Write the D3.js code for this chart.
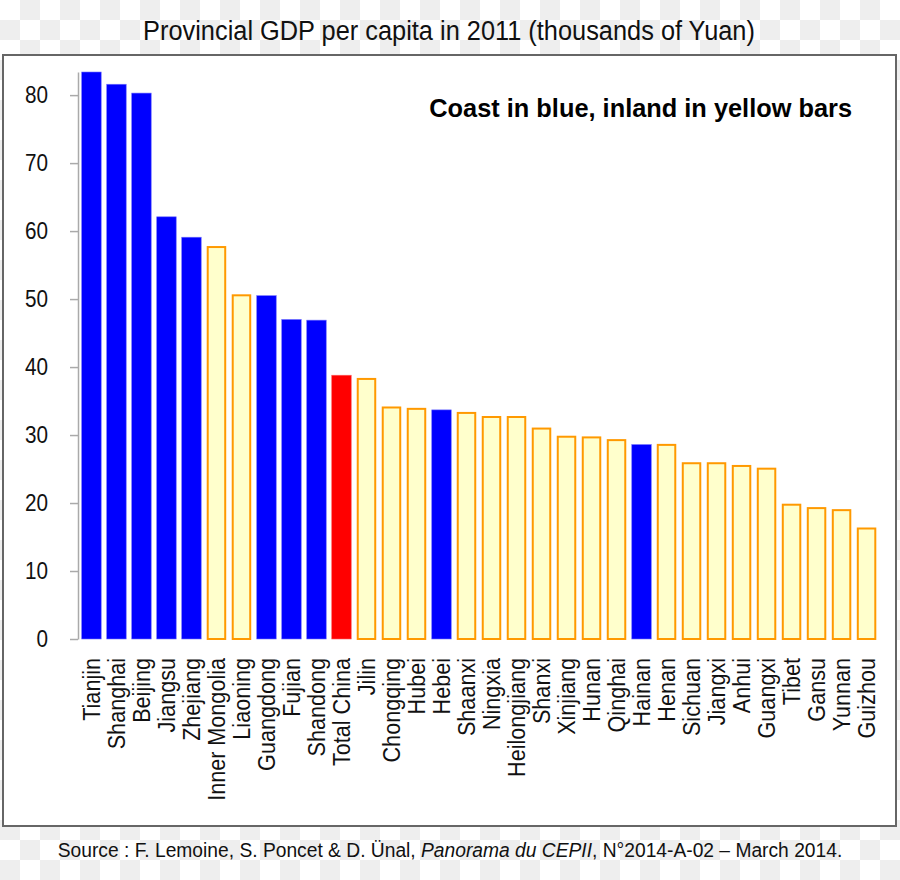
<!DOCTYPE html>
<html>
<head>
<meta charset="utf-8">
<script src="https://cdn.jsdelivr.net/npm/d3@7"></script>
<style>
  body { margin: 0; background: #fff; }
  text { font-family: "Liberation Sans", Arial, sans-serif; }
</style>
</head>
<body>
<div class="diagram"></div>
<script>
// provinces sorted by GDP per capita, 2011 (thousands of Yuan)
const provinces = ["Tianjin", "Shanghai", "Beijing", "Jiangsu", "Zhejiang", "Inner Mongolia",
  "Liaoning", "Guangdong", "Fujian", "Shandong", "Total China", "Jilin", "Chongqing", "Hubei",
  "Hebei", "Shaanxi", "Ningxia", "Heilongjiang", "Shanxi", "Xinjiang", "Hunan", "Qinghai",
  "Hainan", "Henan", "Sichuan", "Jiangxi", "Anhui", "Guangxi", "Tibet", "Gansu", "Yunnan", "Guizhou"];
const gdp = [83.4, 81.6, 80.3, 62.1, 59.1, 57.8, 50.7, 50.5, 47.0, 46.9, 38.8, 38.4, 34.2, 34.0,
  33.7, 33.4, 32.8, 32.8, 31.1, 29.9, 29.8, 29.4, 28.6, 28.7, 26.0, 26.0, 25.6, 25.2, 19.9, 19.4, 19.1, 16.4];
// coast / inland / total
const region = ["coast", "coast", "coast", "coast", "coast", "inland", "inland", "coast", "coast", "coast",
  "total", "inland", "inland", "inland", "coast", "inland", "inland", "inland", "inland", "inland",
  "inland", "inland", "coast", "inland", "inland", "inland", "inland", "inland", "inland", "inland",
  "inland", "inland"];
const yTicks = [0, 10, 20, 30, 40, 50, 60, 70, 80];

const data = provinces.map((p, i) => ({name: p, value: gdp[i], region: region[i]}));

const width = 900, height = 880;
const narrow = 0.9;  // fake "Arial Narrow" by squeezing horizontally

// squeeze a text so it spans targetW pixels
function fitWidth(sel, tx, ty, targetW) {
  const w = sel.node().getComputedTextLength();
  sel.attr("transform", `translate(${tx},${ty}) scale(${targetW / w},1)`);
}

const svg = d3.select(".diagram")
  .append("svg")
    .attr("width", width)
    .attr("height", height);

// checkerboard background (transparent png look)
const pat = svg.append("defs").append("pattern")
  .attr("id", "checker")
  .attr("width", 40).attr("height", 40)
  .attr("patternUnits", "userSpaceOnUse");
pat.append("rect").attr("width", 40).attr("height", 40).attr("fill", "#ffffff");
pat.append("rect").attr("x", 20).attr("y", 0).attr("width", 20).attr("height", 20).attr("fill", "#eeeeee");
pat.append("rect").attr("x", 0).attr("y", 20).attr("width", 20).attr("height", 20).attr("fill", "#eeeeee");

svg.append("rect")
  .attr("width", width).attr("height", height)
  .attr("fill", "url(#checker)");

// chart frame
svg.append("rect")
  .attr("x", 3).attr("y", 55)
  .attr("width", 893).attr("height", 771)
  .attr("fill", "#ffffff")
  .attr("stroke", "#666666")
  .attr("stroke-width", 2);

const title = svg.append("text")
  .attr("text-anchor", "middle")
  .style("font-size", "27px")
  .attr("fill", "#111")
  .text("Provincial GDP per capita in 2011 (thousands of Yuan)");
fitWidth(title, 449, 40, 612);

// scales
const x = d3.scaleBand()
  .domain(provinces)
  .range([79.2, 878.8])
  .paddingInner(0.22)
  .paddingOuter(0.1);

const y = d3.scaleLinear()
  .domain([0, 83.4])
  .range([639, 72]);

// Y axis
const yAxis = svg.append("g")
  .attr("transform", "translate(78,0)")
  .call(d3.axisLeft(y).tickValues(yTicks).tickSize(8).tickSizeOuter(0).tickPadding(22));
yAxis.select(".domain").attr("stroke", "#aaaaaa").attr("stroke-width", 1.5);
yAxis.selectAll(".tick line").attr("stroke", "#aaaaaa").attr("stroke-width", 1.5);
yAxis.selectAll(".tick text")
  .attr("x", 0)
  .attr("transform", `translate(-30,0) scale(${narrow},1)`)
  .attr("fill", "#111")
  .style("font-size", "23px")
  .style("font-family", "\"Liberation Sans\", Arial, sans-serif");

const fillFor = { coast: "#0000ff", inland: "#ffffcc", total: "#ff0000" };

// bars
svg.append("g")
  .selectAll("rect")
  .data(data)
  .join("rect")
    .attr("x", d => x(d.name) + (d.region === "inland" ? 1 : 0))
    .attr("y", d => y(d.value) + (d.region === "inland" ? 1 : 0))
    .attr("width", d => x.bandwidth() - (d.region === "inland" ? 2 : 0))
    .attr("height", d => y(0) - y(d.value) - (d.region === "inland" ? 1 : 0))
    .attr("fill", d => fillFor[d.region])
    .attr("stroke", d => d.region === "inland" ? "#ff9900" : (d.region === "coast" ? "#7070ff" : "#ff6060"))
    .attr("stroke-width", d => d.region === "inland" ? 2 : 0.6);

// category labels (vertical)
svg.append("g")
  .selectAll("text")
  .data(data)
  .join("text")
    .attr("transform", d => `translate(${x(d.name) + x.bandwidth() / 2}, 658) rotate(-90) scale(${narrow},1)`)
    .attr("dy", "0.35em")
    .attr("text-anchor", "end")
    .attr("fill", "#111")
    .style("font-size", "24px")
    .text(d => d.name);

const note = svg.append("text")
  .attr("text-anchor", "end")
  .style("font-size", "26px")
  .style("font-weight", "bold")
  .attr("fill", "#000")
  .text("Coast in blue, inland in yellow bars");
fitWidth(note, 852, 117, 423);

// source line
const src = svg.append("text")
  .attr("text-anchor", "middle")
  .style("font-size", "20px")
  .attr("fill", "#111");
src.append("tspan").text("Source : F. Lemoine, S. Poncet & D. Ünal, ");
src.append("tspan").style("font-style", "italic").text("Panorama du CEPII");
src.append("tspan").text(", N°2014-A-02 – March 2014.");
fitWidth(src, 450, 857, 785);
</script>
</body>
</html>
